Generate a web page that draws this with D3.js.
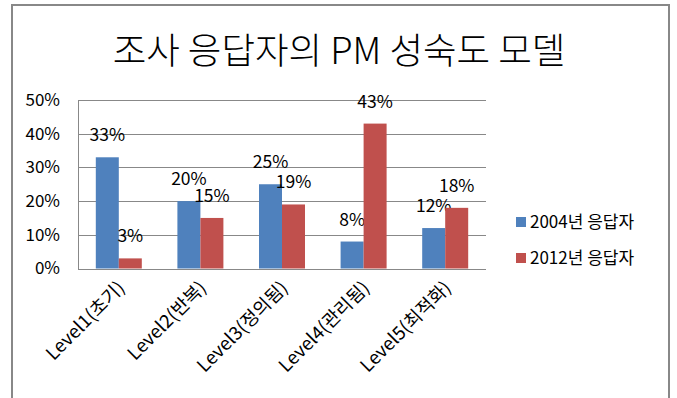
<!DOCTYPE html>
<html><head><meta charset="utf-8">
<script src="https://cdn.jsdelivr.net/npm/d3@7"></script>
<style>body{margin:0;background:#fff}svg{display:block}text{font-family:"Noto Sans CJK KR","Noto Sans",sans-serif;fill:#000}</style>
</head><body>
<script>
const title = "조사 응답자의 PM 성숙도 모델";
const categories = ["Level1(초기)","Level2(반복)","Level3(정의됨)","Level4(관리됨)","Level5(최적화)"];
const seriesNames = ["2004년 응답자","2012년 응답자"];
const values2004 = [0.33,0.20,0.25,0.08,0.12];
const values2012 = [0.03,0.15,0.19,0.43,0.18];
const yTicks = [0,0.1,0.2,0.3,0.4,0.5];
const colors = ["#4F81BD","#C0504D"];

const W=677,H=398;
const svg=d3.select("body").append("svg").attr("width",W).attr("height",H);
svg.append("rect").attr("x",12).attr("y",5).attr("width",657).attr("height",H+10).attr("fill","#fff").attr("stroke","#888").attr("stroke-width",2);

const L=78,R=486,T=100,B=268.5;
const x=d3.scaleBand().domain(categories).range([L,R]).paddingInner(0).paddingOuter(0);
const y=d3.scaleLinear().domain([0,0.5]).range([B,T]);
const barW=23;

const g=svg.append("g");
g.selectAll(".grid").data(yTicks).join("line")
 .attr("x1",L).attr("x2",R).attr("y1",d=>Math.round(y(d))+0.5).attr("y2",d=>Math.round(y(d))+0.5)
 .attr("stroke","#888").attr("stroke-width",1);
g.append("line").attr("x1",L+0.5).attr("x2",L+0.5).attr("y1",T).attr("y2",B+0.5).attr("stroke","#888");

const yAxis=d3.axisLeft(y).tickValues(yTicks).tickFormat(d3.format(".0%")).tickSize(0).tickPadding(18);
const ya=svg.append("g").attr("transform",`translate(${L},0)`).call(yAxis);
ya.select(".domain").remove();
ya.selectAll("text").attr("font-size",17).style("font-family",'"Noto Sans CJK KR",sans-serif').attr("fill","#000");

const series=[values2004,values2012];
series.forEach((vals,si)=>{
  g.selectAll(".bar"+si).data(vals).join("rect")
   .attr("x",(d,i)=>x(categories[i])+x.bandwidth()/2-barW+si*barW)
   .attr("y",d=>y(d)).attr("width",barW).attr("height",d=>B-y(d)).attr("fill",colors[si]);
  g.selectAll(".lab"+si).data(vals).join("text")
   .attr("x",(d,i)=>x(categories[i])+x.bandwidth()/2-barW/2+si*barW)
   .attr("y",d=>y(d)-16).attr("text-anchor","middle").attr("font-size",17.5)
   .text(d=>d3.format(".0%")(d));
});

const xa=svg.append("g");
xa.selectAll("text").data(categories).join("text")
 .attr("transform",d=>`translate(${x(d)+x.bandwidth()/2+7},${289}) rotate(-45)`)
 .attr("text-anchor","end").attr("font-size",18.5).text(d=>d);

svg.append("text").attr("x",339).attr("y",64).attr("text-anchor","middle").attr("font-size",36.5).attr("font-weight",300).text(title);

const lg=svg.append("g");
seriesNames.forEach((n,i)=>{
  lg.append("rect").attr("x",516).attr("y",217+i*36).attr("width",10).attr("height",10).attr("fill",colors[i]);
  lg.append("text").attr("x",530).attr("y",228+i*36).attr("font-size",17).text(n);
});
</script>
</body></html>
